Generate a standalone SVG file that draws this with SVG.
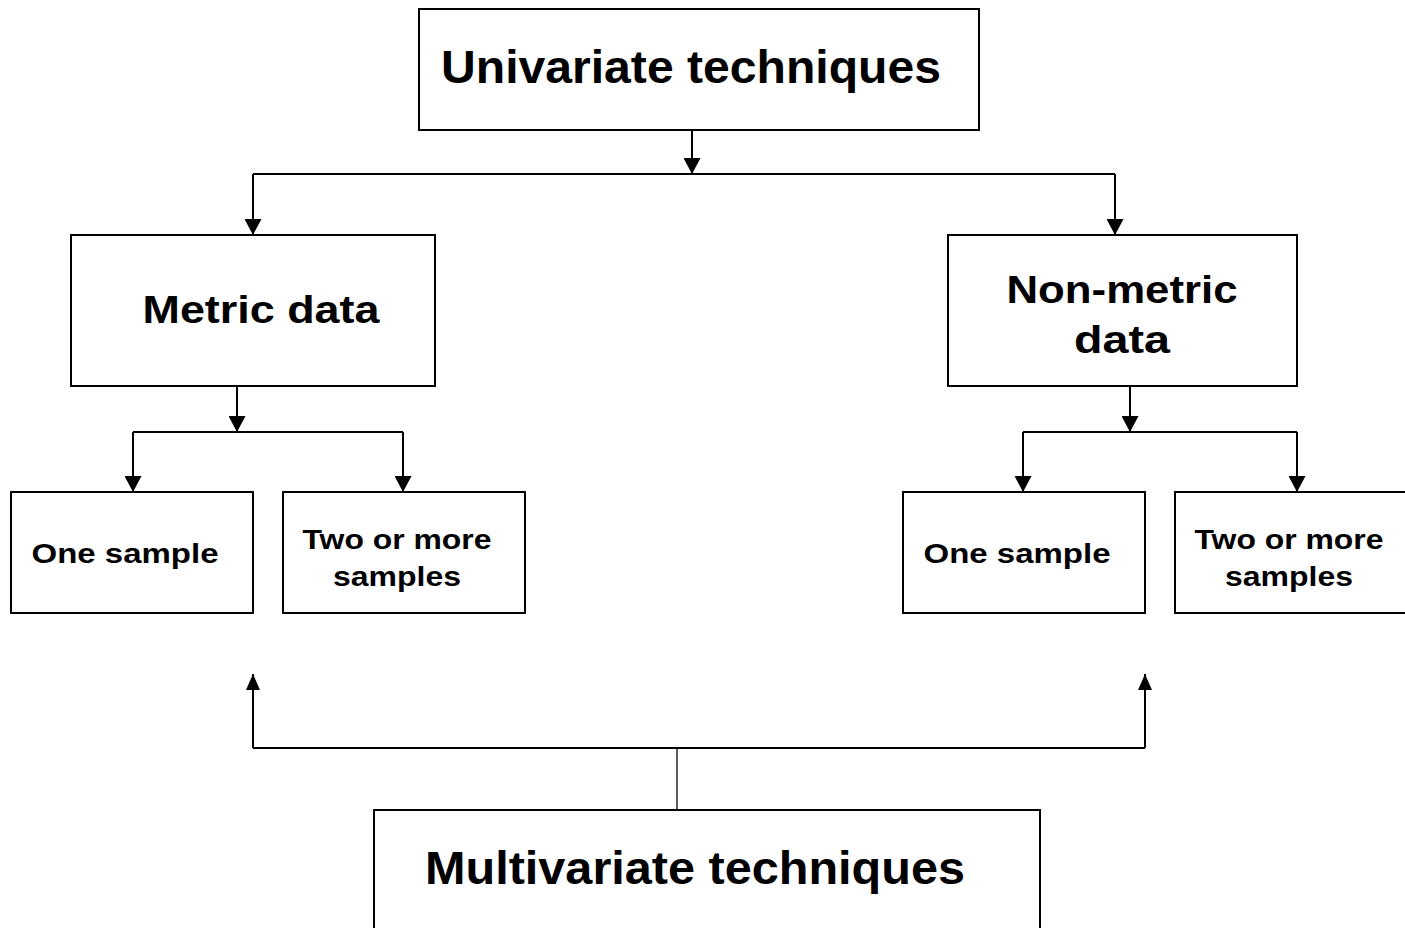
<svg xmlns="http://www.w3.org/2000/svg" width="1405" height="928" viewBox="0 0 1405 928">
  <style>
    .box { fill: #fff; stroke: #000; stroke-width: 2; }
    .lbl { font-family: "Liberation Sans", Arial, sans-serif; font-weight: bold; fill: #000; text-anchor: middle; }
    .big { font-size: 46px; }
    .mid { font-size: 39px; }
    .sm { font-size: 28px; }
    .wire { fill: none; stroke: #000; stroke-width: 2; }
    .thin { fill: none; stroke: #000; stroke-width: 1.3; }
  </style>
  <defs>
    <!-- arrowheads: x along the line, y across it -->
    <marker id="ahDown" viewBox="0 0 16 17" refX="16" refY="8.5" markerWidth="16" markerHeight="17" markerUnits="userSpaceOnUse" orient="auto">
      <path d="M0,0 L16,8.5 L0,17 Z" fill="#000"/>
    </marker>
    <marker id="ahUp" viewBox="0 0 16 14" refX="16" refY="7" markerWidth="16" markerHeight="14" markerUnits="userSpaceOnUse" orient="auto">
      <path d="M0,0 L16,7 L0,14 Z" fill="#000"/>
    </marker>
  </defs>

  <g id="connectors">
    <!-- univariate split -->
    <path class="wire" d="M692,130 V174" marker-end="url(#ahDown)"/>
    <path class="wire" d="M253,174 H1115"/>
    <path class="wire" d="M253,174 V235" marker-end="url(#ahDown)"/>
    <path class="wire" d="M1115,174 V235" marker-end="url(#ahDown)"/>
    <!-- metric split -->
    <path class="wire" d="M237,386 V432" marker-end="url(#ahDown)"/>
    <path class="wire" d="M133,432 H403"/>
    <path class="wire" d="M133,432 V492" marker-end="url(#ahDown)"/>
    <path class="wire" d="M403,432 V492" marker-end="url(#ahDown)"/>
    <!-- non-metric split -->
    <path class="wire" d="M1130,386 V432" marker-end="url(#ahDown)"/>
    <path class="wire" d="M1023,432 H1297"/>
    <path class="wire" d="M1023,432 V492" marker-end="url(#ahDown)"/>
    <path class="wire" d="M1297,432 V492" marker-end="url(#ahDown)"/>
    <!-- multivariate feed -->
    <path class="thin" d="M677,810 V748"/>
    <path class="wire" d="M253,748 H1145"/>
    <path class="wire" d="M253,748 V674" marker-end="url(#ahUp)"/>
    <path class="wire" d="M1145,748 V674" marker-end="url(#ahUp)"/>
  </g>

  <g id="univariate">
    <rect class="box" x="419" y="9" width="560" height="121"/>
    <text class="lbl big" x="691" y="83" textLength="500" lengthAdjust="spacingAndGlyphs">Univariate techniques</text>
  </g>

  <g id="metric">
    <rect class="box" x="71" y="235" width="364" height="151"/>
    <text class="lbl mid" x="261" y="323" textLength="237" lengthAdjust="spacingAndGlyphs">Metric data</text>
  </g>

  <g id="nonmetric">
    <rect class="box" x="948" y="235" width="349" height="151"/>
    <text class="lbl mid" x="1122" y="303" textLength="231" lengthAdjust="spacingAndGlyphs">Non-metric</text>
    <text class="lbl mid" x="1122" y="353" textLength="96" lengthAdjust="spacingAndGlyphs">data</text>
  </g>

  <g id="metric-one">
    <rect class="box" x="11" y="492" width="242" height="121"/>
    <text class="lbl sm" x="125" y="563" textLength="187" lengthAdjust="spacingAndGlyphs">One sample</text>
  </g>

  <g id="metric-two">
    <rect class="box" x="283" y="492" width="242" height="121"/>
    <text class="lbl sm" x="397" y="549" textLength="189" lengthAdjust="spacingAndGlyphs">Two or more</text>
    <text class="lbl sm" x="397" y="586" textLength="128" lengthAdjust="spacingAndGlyphs">samples</text>
  </g>

  <g id="nonmetric-one">
    <rect class="box" x="903" y="492" width="242" height="121"/>
    <text class="lbl sm" x="1017" y="563" textLength="187" lengthAdjust="spacingAndGlyphs">One sample</text>
  </g>

  <g id="nonmetric-two">
    <rect class="box" x="1175" y="492" width="242" height="121"/>
    <text class="lbl sm" x="1289" y="549" textLength="189" lengthAdjust="spacingAndGlyphs">Two or more</text>
    <text class="lbl sm" x="1289" y="586" textLength="128" lengthAdjust="spacingAndGlyphs">samples</text>
  </g>

  <g id="multivariate">
    <rect class="box" x="374" y="810" width="666" height="130"/>
    <text class="lbl big" x="695" y="884" textLength="540" lengthAdjust="spacingAndGlyphs">Multivariate techniques</text>
  </g>
</svg>
